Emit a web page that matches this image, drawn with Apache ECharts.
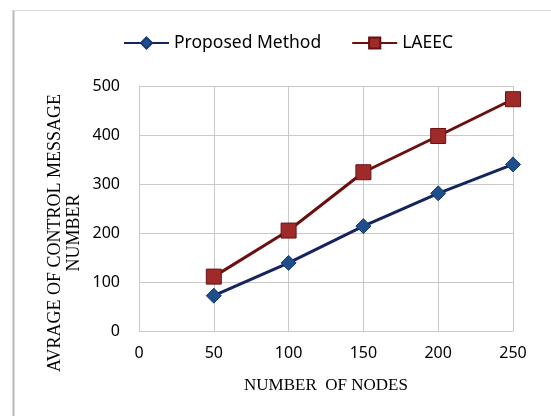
<!DOCTYPE html>
<html>
<head>
<meta charset="utf-8">
<script src="https://cdn.jsdelivr.net/npm/echarts@6/dist/echarts.min.js"></script>
<style>
html,body{margin:0;padding:0;background:#fff;}
#c{width:551px;height:416px;}
</style>
</head>
<body>
<div id="c"></div>
<script>
var nodes = [50, 100, 150, 200, 250];
var proposed = [72, 139, 214, 281, 340];
var laeec = [111, 205, 324, 398, 473];
var seriesNames = ['Proposed Method', 'LAEEC'];
var xTitle = 'NUMBER  OF NODES';
var yTitle = 'AVRAGE OF CONTROL MESSAGE\nNUMBER';

function pairs(xs, ys) { return xs.map(function (x, i) { return [x, ys[i]]; }); }

var chart = echarts.init(document.getElementById('c'));
chart.setOption({
  backgroundColor: '#fff',
  animation: false,
  legend: {
    top: 29,
    left: 118,
    itemWidth: 45,
    itemHeight: 14,
    itemGap: 30,
    textStyle: { fontFamily: 'Noto Sans', fontSize: 17.5, color: '#000' },
    data: seriesNames
  },
  grid: { left: 139, right: 38, top: 86, bottom: 85 },
  xAxis: {
    type: 'value', min: 0, max: 250, interval: 50,
    axisLine: { show: true, lineStyle: { color: '#c8c8c8', width: 1 } },
    axisTick: { show: false },
    splitLine: { show: true, lineStyle: { color: '#c8c8c8', width: 1 } },
    axisLabel: { fontFamily: 'Noto Sans', fontSize: 16, color: '#000', margin: 14 },
    name: xTitle, nameLocation: 'middle', nameGap: 46,
    nameTextStyle: { fontFamily: 'Liberation Serif', fontSize: 17, color: '#000' }
  },
  yAxis: {
    type: 'value', min: 0, max: 500, interval: 100,
    axisLine: { show: true, lineStyle: { color: '#c8c8c8', width: 1 } },
    axisTick: { show: false },
    splitLine: { show: true, lineStyle: { color: '#c8c8c8', width: 1 } },
    axisLabel: { fontFamily: 'Noto Sans', fontSize: 16, color: '#000', margin: 19 }
  },
  graphic: [
    { type: 'line', shape: { x1: 13.5, y1: 10, x2: 13.5, y2: 416 }, style: { stroke: '#b8b8b8', lineWidth: 2 } },
    { type: 'line', shape: { x1: 13, y1: 10.5, x2: 551, y2: 10.5 }, style: { stroke: '#d8d8d8', lineWidth: 1 } },
    { type: 'text', x: 65, y: 233, rotation: Math.PI / 2,
      style: { text: yTitle, fontFamily: 'Liberation Serif', fontSize: 18, lineHeight: 19, fill: '#000', align: 'center', verticalAlign: 'middle' } }
  ],
  series: [
    {
      name: seriesNames[0], type: 'line', data: pairs(nodes, proposed),
      symbol: 'diamond', symbolSize: 15,
      lineStyle: { color: '#13245f', width: 3 },
      itemStyle: { color: '#1f4e8c', borderColor: '#163a70', borderWidth: 1 }
    },
    {
      name: seriesNames[1], type: 'line', data: pairs(nodes, laeec),
      symbol: 'rect', symbolSize: 15,
      lineStyle: { color: '#6a1010', width: 3 },
      itemStyle: { color: '#9e2a2a', borderColor: '#6a1010', borderWidth: 1 }
    }
  ]
});
</script>
</body>
</html>
